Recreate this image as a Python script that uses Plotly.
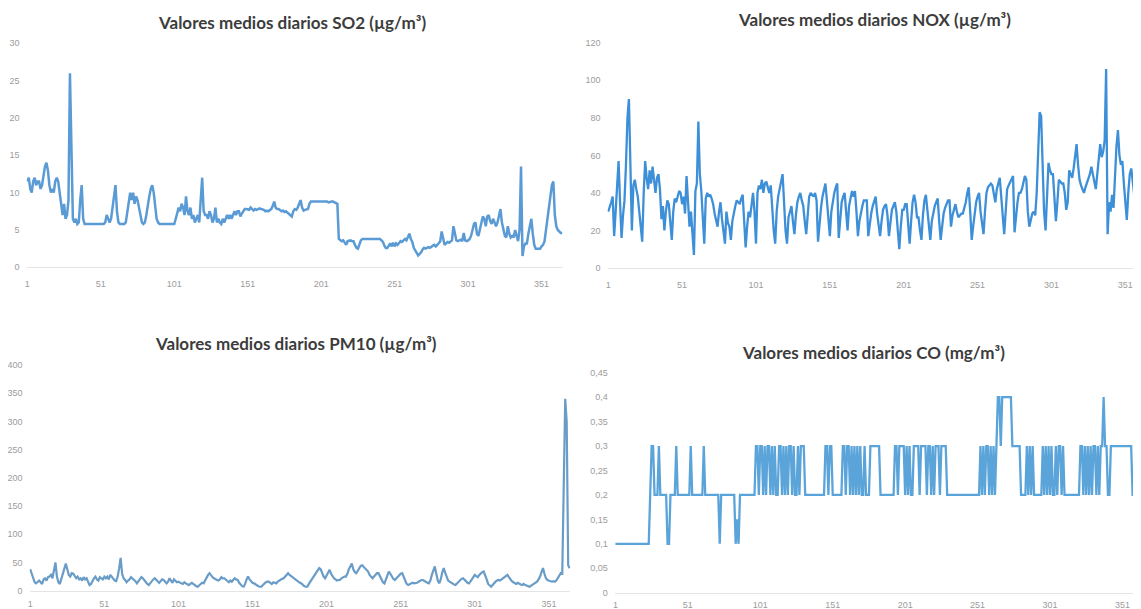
import plotly.graph_objects as go

W, H = 1141, 609
# the page places the figure 8px from the top-left corner (default body margin)
OX, OY = 8, 8

days = list(range(1, 366))
x_ticks = [1, 51, 101, 151, 201, 251, 301, 351]

so2 = [
    11.5, 12, 10.5, 10, 11.5, 12, 11, 11.5, 11.5, 10.5,
    11, 12.5, 13.5, 14, 13, 11, 10, 10.5, 10, 11.5,
    12, 11.5, 10, 8, 7, 8.5, 6.5, 7, 9, 26,
    14, 6.5, 6, 6.5, 5.8, 6, 9, 11, 6.5, 5.8,
    5.8, 5.8, 5.8, 5.8, 5.8, 5.8, 5.8, 5.8, 5.8, 5.8,
    5.8, 5.8, 5.8, 6, 7, 6.5, 6, 6.5, 8, 9.5,
    11, 7.5, 6, 5.8, 5.8, 5.8, 5.8, 6, 7.5, 8.5,
    10, 9, 10, 8.5, 9.5, 9, 8, 6.5, 6, 5.8,
    6, 7, 8.5, 9.5, 10.5, 11, 10, 8, 6.5, 6,
    5.8, 5.8, 5.8, 5.8, 5.8, 5.8, 5.8, 5.8, 5.8, 5.8,
    5.8, 6.5, 7.5, 8, 7.5, 8.5, 8, 7, 9.5, 7.5,
    7, 8, 6.5, 7, 6, 6.5, 7, 6, 8.5, 12,
    7.5, 7, 7, 6.5, 7.5, 7, 6, 6.5, 8, 6,
    6.5, 6, 5.8, 6.5, 6, 6.5, 7, 6.5, 7, 6.5,
    7, 7.5, 7, 7.5, 7.5, 6.8, 7.2, 7.5, 7.8, 7.8,
    7.8, 7.7, 8, 7.8, 7.6, 7.8, 7.7, 7.8, 7.9, 7.8,
    7.8, 7.7, 7.5, 7.6, 7.5, 7.7, 7.8, 8.2, 8.8, 8,
    7.8, 7.8, 7.6, 7.5, 7.6, 7.4, 7.5, 7.3, 7.2, 7,
    6.8, 7.5, 7.8, 7.7, 8, 8.5, 9, 8, 7.6, 7.7,
    7.7, 7.8, 8.5, 8.8, 8.8, 8.8, 8.9, 8.8, 8.8, 8.8,
    8.8, 8.8, 8.9, 8.8, 8.8, 8.7, 8.8, 8.8, 8.8, 8.7,
    8.7, 8.5, 3.8, 3.6, 3.5, 3.6, 3.2, 3, 3.5, 3.6,
    3.6, 3.5, 3.5, 3, 2.6, 2.5, 3.2, 3.6, 3.8, 3.8,
    3.8, 3.8, 3.7, 3.8, 3.8, 3.8, 3.7, 3.8, 3.8, 3.8,
    3.8, 3.6, 3.4, 2.9, 2.6, 2.6, 3.0, 3.2, 2.8, 3.3,
    2.8, 3.2, 3.0, 3.3, 3.5, 3.4, 3.6, 3.8, 3.6, 4.0,
    4.5, 3.8, 3.4, 2.6, 2.2, 2.0, 1.6, 1.8, 2.0, 2.4,
    2.6, 2.5, 2.6, 2.7, 2.6, 2.8, 2.9, 3.0, 2.8, 3.0,
    3.2, 3.5, 4.8, 3.6, 3.0, 3.2, 3.4, 3.3, 3.5, 3.6,
    5.5, 4.6, 3.6, 3.5, 3.6, 3.7, 3.5, 4.6, 3.6, 3.5,
    3.6, 3.8, 4.2, 5.0, 5.8, 6.0, 4.5, 4.2, 5.0, 6.2,
    6.8, 6.5, 5.5, 6.8, 7.0, 6.2, 5.8, 6.5, 6.0, 5.5,
    6.0, 7.2, 7.8, 6.0, 5.0, 4.2, 4.0, 5.5, 4.5, 4.0,
    4.2, 4.0, 5.0, 4.0, 3.5, 5.0, 13.5, 1.5, 2.8, 3.2,
    3.2, 4.5, 5.5, 6.5, 4.5, 3.0, 2.5, 2.5, 2.6, 2.5,
    2.8, 3.0, 3.5, 5.0, 6.5, 8.0, 9.5, 11.0, 11.5, 7.0,
    5.5, 5.0, 4.8, 4.6, 4.6,
]

nox = [
    30, 32, 35, 38, 17, 30, 45, 57, 35, 16,
    28, 36, 55, 80, 90, 45, 20, 44, 47, 42,
    38, 30, 22, 14, 40, 57, 48, 42, 52, 45,
    54, 46, 40, 48, 50, 42, 26, 33, 20, 30,
    36, 34, 24, 15, 30, 37, 35, 38, 41, 40,
    34, 38, 29, 49, 36, 22, 30, 18, 7, 41,
    45, 78, 50, 41, 25, 13, 37, 40, 38, 39,
    37, 34, 29, 26, 22, 30, 35, 26, 18, 13,
    30, 24, 22, 15, 25, 30, 33, 36, 35, 34,
    37, 39, 25, 11, 22, 30, 27, 35, 40, 30,
    13, 40, 44, 42, 47, 40, 45, 46, 43, 40,
    44, 30, 20, 13, 30, 38, 42, 45, 50, 35,
    20, 13, 27, 30, 33, 25, 18, 28, 35, 38,
    40, 36, 33, 25, 18, 28, 38, 40, 39, 38,
    40, 36, 14, 25, 32, 38, 42, 45, 36, 25,
    17, 30, 36, 40, 43, 45, 16, 28, 35, 38,
    40, 30, 20, 33, 38, 41, 38, 41, 30, 17,
    25, 30, 33, 36, 36, 36, 17, 24, 29, 33,
    36, 38, 29, 22, 17, 25, 31, 33, 34, 28,
    17, 24, 31, 33, 35, 30, 20, 10, 22, 31,
    31, 34, 34, 25, 13, 25, 35, 39, 35, 27,
    27, 20, 15, 28, 36, 39, 30, 20, 15, 25,
    30, 33, 35, 37, 25, 15, 22, 29, 32, 34,
    36, 36, 22, 28, 31, 34, 30, 27, 28, 29,
    29, 32, 35, 40, 43, 30, 15, 22, 29, 35,
    38, 40, 30, 22, 18, 30, 40, 43, 44, 45,
    44, 40, 35, 42, 46, 48, 38, 25, 18, 30,
    42, 44, 46, 48, 49, 19, 28, 35, 40, 40,
    42, 46, 49, 47, 30, 22, 25, 29, 30, 28,
    40, 60, 83, 81, 50, 30, 20, 35, 56, 52,
    50, 50, 40, 25, 35, 47, 46, 45, 45, 40,
    31, 35, 52, 50, 48, 53, 60, 66, 55, 47,
    44, 42, 40, 43, 45, 47, 50, 54, 50, 45,
    42, 50, 60, 66, 59, 62, 68, 106, 18, 35,
    30, 39, 32, 50, 65, 73.5, 60, 55, 57, 45,
    35, 25.6, 40, 50, 53, 45, 39, 30, 25, 18,
    12, 12, 12, 12, 12,
]

pm10 = [
    38, 30, 20, 15, 13, 16, 18, 15, 12, 20,
    22, 18, 24, 25, 28, 22, 35, 50, 25, 15,
    12, 20, 30, 40, 48, 38, 28, 25, 31, 30,
    26, 22, 25, 20, 22, 18, 24, 20, 22, 15,
    10, 12, 18, 22, 25, 20, 18, 24, 22, 20,
    25, 22, 25, 20, 28, 24, 20, 18, 17, 25,
    40, 58, 30, 22, 19, 15, 18, 20, 24, 22,
    20, 17, 13, 16, 20, 24, 22, 18, 14, 12,
    10, 14, 18, 20, 22, 19, 16, 14, 17, 20,
    19, 16, 13, 16, 22, 18, 14, 20, 18, 15,
    16, 14, 13, 12, 15, 13, 11, 10, 12, 14,
    12, 9, 8, 7, 9, 12, 14, 13, 18, 24,
    28, 31, 27, 24, 22, 20, 19, 18, 20, 24,
    22, 22, 20, 17, 15, 18, 16, 19, 22, 20,
    19, 14, 10, 8, 7, 12, 20, 25, 20, 16,
    14, 13, 11, 9, 8, 7, 7, 10, 13, 15,
    16, 16, 14, 12, 15, 14, 13, 16, 18, 20,
    21, 22, 25, 28, 31, 28, 25, 24, 22, 20,
    17, 15, 14, 13, 10, 8, 7, 7, 12, 16,
    20, 22, 28, 32, 36, 40, 38, 30, 25, 22,
    28, 34, 37, 30, 25, 22, 20, 18, 19, 19,
    22, 24, 25, 25, 30, 38, 44, 48, 38, 33,
    31, 36, 40, 44, 45, 42, 39, 37, 34, 28,
    24, 22, 25, 28, 31, 31, 26, 20, 15, 13,
    20, 28, 34, 30, 25, 21, 19, 22, 25, 28,
    30, 31, 25, 18, 12, 10, 11, 12, 14, 13,
    13, 14, 16, 18, 19, 19, 17, 15, 14, 13,
    18, 28, 38, 43, 30, 18, 13, 20, 32, 40,
    32, 24, 18, 16, 14, 12, 11, 10, 13, 16,
    19, 21, 22, 20, 17, 14, 13, 16, 20, 24,
    28, 26, 24, 28, 31, 33, 34, 28, 20, 12,
    9, 7, 10, 14, 16, 18, 19, 18, 20, 22,
    25, 27, 28, 24, 20, 17, 15, 13, 12, 14,
    12, 11, 10, 12, 10, 9, 8, 7, 9, 11,
    13, 15, 16, 20, 25, 33, 40, 30, 22, 19,
    18, 17, 16, 17, 16, 18, 22, 28, 31, 30,
    180, 340, 300, 45, 40,
]

co = [
    0.1, 0.1, 0.1, 0.1, 0.1, 0.1, 0.1, 0.1, 0.1, 0.1,
    0.1, 0.1, 0.1, 0.1, 0.1, 0.1, 0.1, 0.1, 0.1, 0.1,
    0.1, 0.1, 0.1, 0.1, 0.2, 0.3, 0.3, 0.2, 0.2, 0.2,
    0.3, 0.2, 0.2, 0.2, 0.2, 0.2, 0.1, 0.1, 0.2, 0.2,
    0.2, 0.2, 0.3, 0.2, 0.2, 0.2, 0.2, 0.2, 0.2, 0.2,
    0.2, 0.2, 0.3, 0.2, 0.2, 0.2, 0.2, 0.2, 0.2, 0.2,
    0.2, 0.3, 0.2, 0.2, 0.2, 0.2, 0.2, 0.2, 0.2, 0.2,
    0.2, 0.2, 0.1, 0.2, 0.2, 0.2, 0.2, 0.2, 0.2, 0.2,
    0.2, 0.2, 0.2, 0.1, 0.15, 0.1, 0.2, 0.2, 0.2, 0.2,
    0.2, 0.2, 0.2, 0.2, 0.2, 0.2, 0.2, 0.3, 0.3, 0.2,
    0.3, 0.3, 0.2, 0.3, 0.2, 0.3, 0.3, 0.2, 0.3, 0.2,
    0.3, 0.2, 0.2, 0.3, 0.3, 0.2, 0.3, 0.2, 0.3, 0.2,
    0.3, 0.3, 0.2, 0.3, 0.2, 0.2, 0.3, 0.2, 0.3, 0.3,
    0.3, 0.2, 0.2, 0.2, 0.2, 0.2, 0.2, 0.2, 0.2, 0.2,
    0.2, 0.2, 0.2, 0.2, 0.2, 0.3, 0.3, 0.2, 0.3, 0.3,
    0.2, 0.2, 0.2, 0.2, 0.2, 0.2, 0.2, 0.3, 0.3, 0.2,
    0.3, 0.3, 0.2, 0.3, 0.2, 0.3, 0.2, 0.3, 0.2, 0.3,
    0.2, 0.2, 0.3, 0.2, 0.2, 0.2, 0.3, 0.3, 0.3, 0.3,
    0.3, 0.3, 0.3, 0.2, 0.2, 0.2, 0.2, 0.2, 0.2, 0.2,
    0.2, 0.2, 0.2, 0.3, 0.3, 0.2, 0.3, 0.3, 0.3, 0.3,
    0.2, 0.3, 0.2, 0.3, 0.2, 0.2, 0.3, 0.3, 0.3, 0.3,
    0.2, 0.3, 0.3, 0.3, 0.3, 0.2, 0.3, 0.3, 0.2, 0.3,
    0.2, 0.3, 0.3, 0.3, 0.2, 0.3, 0.3, 0.3, 0.3, 0.2,
    0.2, 0.2, 0.2, 0.2, 0.2, 0.2, 0.2, 0.2, 0.2, 0.2,
    0.2, 0.2, 0.2, 0.2, 0.2, 0.2, 0.2, 0.2, 0.2, 0.2,
    0.2, 0.2, 0.3, 0.2, 0.3, 0.2, 0.3, 0.3, 0.2, 0.3,
    0.2, 0.3, 0.2, 0.3, 0.4, 0.4, 0.3, 0.4, 0.4, 0.4,
    0.4, 0.4, 0.4, 0.4, 0.3, 0.3, 0.3, 0.3, 0.3, 0.3,
    0.2, 0.2, 0.2, 0.2, 0.3, 0.2, 0.3, 0.2, 0.3, 0.2,
    0.2, 0.2, 0.2, 0.2, 0.2, 0.3, 0.2, 0.3, 0.2, 0.3,
    0.2, 0.3, 0.2, 0.2, 0.3, 0.2, 0.3, 0.3, 0.2, 0.3,
    0.2, 0.2, 0.2, 0.2, 0.2, 0.2, 0.2, 0.2, 0.2, 0.2,
    0.2, 0.3, 0.3, 0.2, 0.3, 0.2, 0.3, 0.2, 0.3, 0.2,
    0.3, 0.3, 0.2, 0.3, 0.2, 0.3, 0.3, 0.4, 0.3, 0.3,
    0.2, 0.2, 0.3, 0.3, 0.3, 0.3, 0.3, 0.3, 0.3, 0.3,
    0.3, 0.3, 0.3, 0.3, 0.3, 0.3, 0.3, 0.2, 0.2, 0.2,
    0.2, 0.2, 0.2, 0.2, 0.2,
]

titles = [
    "Valores medios diarios SO2 (µg/m³)",
    "Valores medios diarios NOX (µg/m³)",
    "Valores medios diarios PM10 (µg/m³)",
    "Valores medios diarios CO (mg/m³)",
]
so2_ticks = [0, 5, 10, 15, 20, 25, 30]
nox_ticks = [0, 20, 40, 60, 80, 100, 120]
pm10_ticks = [0, 50, 100, 150, 200, 250, 300, 350, 400]
co_ticks = [0, 0.05, 0.1, 0.15, 0.2, 0.25, 0.3, 0.35, 0.4, 0.45]

# panel geometry in screen pixels
panels = [
    dict(s=so2, c="#5b9bd5", w=2.5, xd=(26.6, 562.9), xr=(0.5, 365.5), yd=(267.3, 43.3), yr=(0, 30), yt=so2_ticks,
         title=titles[0], tx=292, ty=23, xs=8),
    dict(s=nox, c="#3d8fd8", w=2.3, xd=(607.5, 1141), xr=(0.5, 361.6), yd=(268, 42.7), yr=(0, 120), yt=nox_ticks,
         title=titles[1], tx=874, ty=20, xs=8),
    dict(s=pm10, c="#6a9cc8", w=2.2, xd=(29.5, 570.4), xr=(0.5, 365.5), yd=(590.7, 365), yr=(0, 400), yt=pm10_ticks,
         title=titles[2], tx=296, ty=343, xs=4),
    dict(s=co, c="#5aa4da", w=2.3, xd=(614.7, 1141), xr=(0.5, 363.8), yd=(592.7, 372.7), yr=(0, 0.45), yt=co_ticks,
         title=titles[3], tx=873, ty=352, xs=3),
]


def fx(px):
    return (px - OX) / W


def fy(py):
    return 1 - (py - OY) / H


fig = go.Figure()
tickfont = dict(family="Liberation Sans, Arial", size=9, color="#9c9c9c")
for i, p in enumerate(panels, start=1):
    xa = "x" if i == 1 else f"x{i}"
    ya = "y" if i == 1 else f"y{i}"
    fig.add_trace(go.Scatter(x=days, y=p["s"], mode="lines", xaxis=xa, yaxis=ya,
                             line=dict(color=p["c"], width=p["w"]), showlegend=False,
                             hoverinfo="x+y"))
    xk = "xaxis" if i == 1 else f"xaxis{i}"
    yk = "yaxis" if i == 1 else f"yaxis{i}"
    fig.layout[xk] = dict(domain=[fx(p["xd"][0]), min(1, fx(p["xd"][1]))], range=list(p["xr"]),
                          anchor=ya, tickvals=x_ticks, ticktext=[str(t) for t in x_ticks],
                          showgrid=False, zeroline=False, showline=True, linecolor="#e4e4e4",
                          linewidth=1, ticks="", ticklabelstandoff=p["xs"], tickfont=tickfont,
                          automargin=False)
    fig.layout[yk] = dict(domain=[fy(p["yd"][0]), fy(p["yd"][1])], range=list(p["yr"]),
                          anchor=xa, tickvals=p["yt"], showgrid=False, zeroline=False,
                          showline=False, ticks="", ticklabelstandoff=6, tickfont=tickfont,
                          automargin=False)
    fig.add_annotation(text=f"<b>{p['title']}</b>", x=fx(p["tx"]), y=fy(p["ty"]),
                       xref="paper", yref="paper", xanchor="center", yanchor="middle",
                       showarrow=False, font=dict(family="Lato, Open Sans, sans-serif", size=17, color="#3c3c3c"))

fig.update_layout(width=W, height=H, margin=dict(l=0, r=0, t=0, b=0, pad=0, autoexpand=False),
                  paper_bgcolor="white", plot_bgcolor="white", separators=",.")

fig.write_html("out.html")
